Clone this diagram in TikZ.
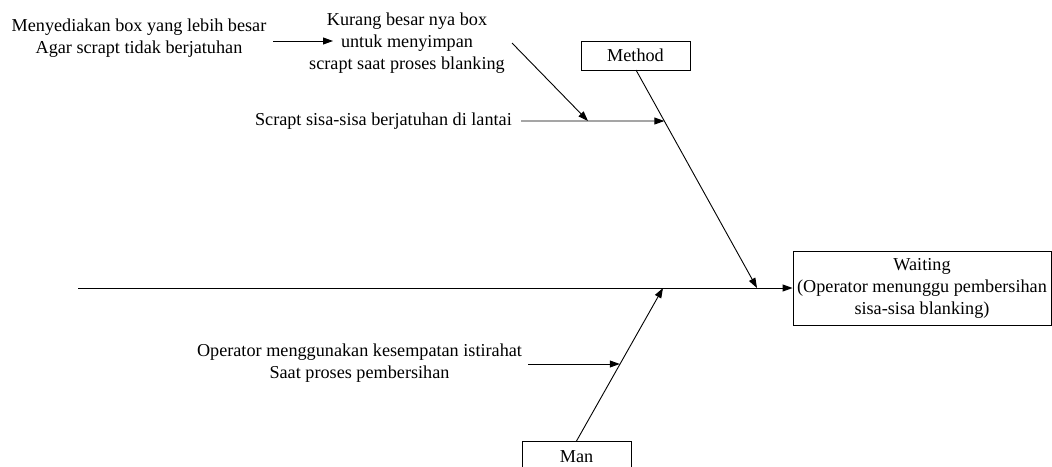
\documentclass[tikz,border=0pt]{standalone}
\usepackage{fontspec}
\setmainfont{Liberation Serif}
\usetikzlibrary{arrows.meta,calc}
\begin{document}
\begin{tikzpicture}[x=1pt,y=-1pt,
  every node/.style={font=\fontsize{18.2}{22}\selectfont, inner sep=0pt},
  lbl/.style={align=center},
  boxed/.style={draw, line width=0.9pt, align=center},
  conn/.style={line width=0.9pt, -{Triangle[length=10pt,width=7pt]}},
  plain/.style={line width=0.9pt}]
\useasboundingbox (0,0) rectangle (1052,466);
% effect box
\node[boxed, minimum width=258pt, minimum height=74pt] (wait) at (922,288)
  {Waiting\\(Operator menunggu pembersihan\\sisa-sisa blanking)};
% spine
\coordinate (spineL) at (78,288);
\draw[conn] (spineL) -- (wait.west);
% Method bone
\node[boxed, minimum width=109pt, minimum height=29pt] (method) at (635.5,55.5) {Method};
\coordinate (mB) at (636,70);
\coordinate (mE) at (757,288);
\draw[conn] (mB) -- (mE);
% Man bone
\node[boxed, anchor=north, minimum width=109pt, minimum height=30pt] (man) at (576.5,441) {Man};
\coordinate (manE) at (663,288);
\draw[conn] (man.north) -- (manE);
% method causes
\node[lbl, anchor=east] (scrapt) at (512,121) {Scrapt sisa-sisa berjatuhan di lantai};
\coordinate (sE) at ($(mB)!0.234!(mE)$);
\draw[conn] ($(scrapt.east)+(9,0)$) coordinate (sS) -- (sE);
\node[lbl] (kurang) at (407,43) {Kurang besar nya box\\untuk menyimpan\\scrapt saat proses blanking};
\coordinate (kS) at (512,43);
\coordinate (kE) at (588,121);
\draw[conn] (kS) -- (kE);
\node[lbl] (menyed) at (139,38) {Menyediakan box yang lebih besar\\Agar scrapt tidak berjatuhan};
\coordinate (aS) at (273,41);
\coordinate (aE) at (333,41);
\draw[conn] (aS) -- (aE);
% man causes
\node[lbl] (oper) at (359.5,363) {Operator menggunakan kesempatan istirahat\\Saat proses pembersihan};
\coordinate (oS) at (528,364);
\coordinate (oE) at ($(man.north)!0.5!(manE)$);
\draw[conn] (oS) -- (oS -| oE);
\end{tikzpicture}
\end{document}
